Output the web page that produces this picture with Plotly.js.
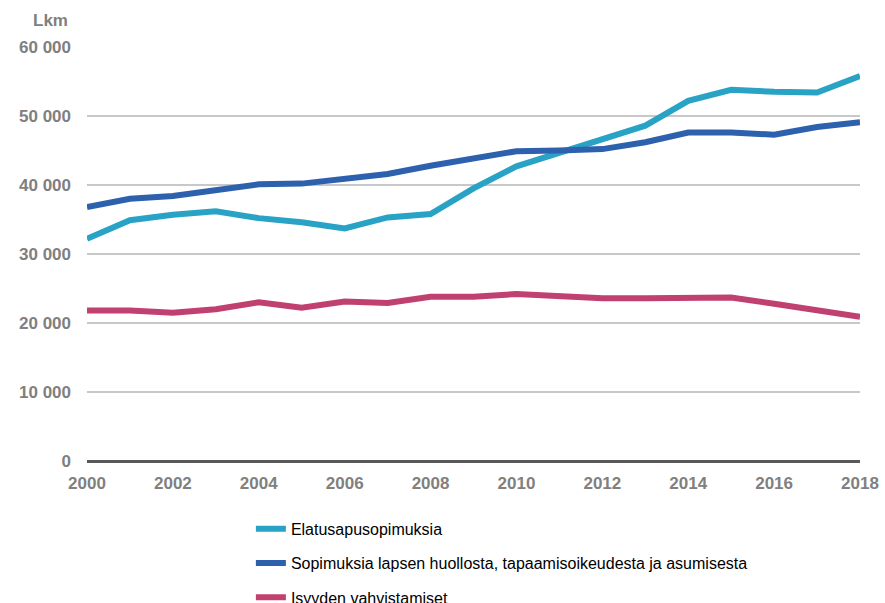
<!DOCTYPE html>
<html>
<head>
<meta charset="utf-8">
<script src="https://cdn.plot.ly/plotly-3.0.1.min.js"></script>
<style>html,body{margin:0;padding:0;background:#fff;}#chart{width:885px;height:603px;}</style>
</head>
<body>
<div id="chart"></div>
<script>
const years = [2000,2001,2002,2003,2004,2005,2006,2007,2008,2009,2010,2011,2012,2013,2014,2015,2016,2017,2018];
const elatusapu = [32200,34900,35700,36200,35200,34600,33700,35300,35800,39500,42700,44700,46600,48600,52200,53800,53500,53400,55800];
const sopimuksia = [36800,38000,38400,39200,40100,40200,40800,41600,42800,43900,44900,45000,45200,46200,47600,47600,47300,48400,49100];
const isyys = [21800,21800,21500,22000,23000,22200,23100,22900,23800,23800,24200,23800,23600,23600,23700,23700,22800,21900,20900];
const seriesNames = ["Elatusapusopimuksia","Sopimuksia lapsen huollosta, tapaamisoikeudesta ja asumisesta","Isyyden vahvistamiset"];
const yTicks = [0,10000,20000,30000,40000,50000,60000];
const xTicks = [2000,2002,2004,2006,2008,2010,2012,2014,2016,2018];
const unitLabel = "Lkm";

const colors = ["#29a3c5","#2d61ae","#c0406f"];
const data = [elatusapu, sopimuksia, isyys].map((vals,i)=>({
  x: years, y: vals, type:'scatter', mode:'lines', name: seriesNames[i],
  legendgroup: 'g'+i,
  line:{color:colors[i], width:6}
}));

const layout = {
  width:885, height:603,
  margin:{l:87, r:25, t:47, b:142, autoexpand:false},
  paper_bgcolor:'#fff', plot_bgcolor:'#fff',
  separators:', ',
  font:{family:'Liberation Sans, Arial, sans-serif', color:'#808080'},
  xaxis:{range:[2000,2018], tickvals:xTicks, showgrid:false, zeroline:false, showline:false,
    ticks:'', ticklabelstandoff:10, tickfont:{size:17, weight:'bold', color:'#808080'}},
  yaxis:{range:[0,60000], tickvals:yTicks, tickformat:',d', showgrid:true, gridcolor:'#c8c8c8', gridwidth:2,
    zeroline:true, zerolinecolor:'#595959', zerolinewidth:3, showline:false, ticks:'',
    ticklabelstandoff:15, tickfont:{size:17, weight:'bold', color:'#808080'}},
  showlegend:true,
  legend:{x:0.212, xanchor:'left', y:-0.1227, yanchor:'top', orientation:'v', tracegroupgap:10.5,
    font:{size:16, color:'#000', family:'Liberation Sans, Arial, sans-serif'}, bgcolor:'rgba(0,0,0,0)'},
  annotations:[{text:unitLabel, xref:'paper', yref:'paper', x:-0.022, y:1.065, xanchor:'right', yanchor:'middle',
    showarrow:false, font:{size:17, weight:'bold', color:'#808080'}}]
};
Plotly.newPlot('chart', data, layout, {displayModeBar:false, staticPlot:true});
</script>
</body>
</html>
